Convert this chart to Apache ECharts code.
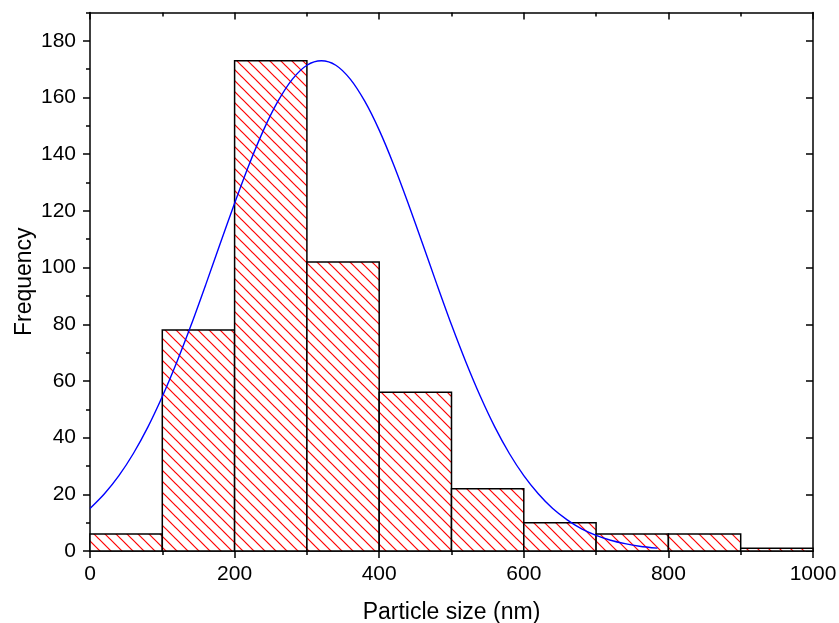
<!DOCTYPE html>
<html>
<head>
<meta charset="utf-8">
<script src="https://cdn.jsdelivr.net/npm/echarts@6/dist/echarts.min.js"></script>
<style>
html,body{margin:0;padding:0;background:#fff;}
#chart{width:839px;height:623px;}
</style>
</head>
<body>
<div id="chart"></div>
<script>
// Histogram bins (nm) and counts
var binStart = [0, 100, 200, 300, 400, 500, 600, 700, 800, 900];
var binEnd   = [100, 200, 300, 400, 500, 600, 700, 800, 900, 1000];
var counts   = [6, 78, 173, 102, 56, 22, 10, 6, 6, 1];

// Fitted curve
var curveX = [0, 20, 40, 60, 80, 100, 120, 140, 160, 180, 200, 220, 240, 260, 280, 300, 320, 340, 360, 380, 400,
              420, 440, 460, 480, 500, 520, 540, 560, 580, 600, 620, 640, 660, 680, 700, 720, 740, 760, 785];
var curveY = [15.0, 20.2, 26.6, 34.4, 43.7, 54.5, 66.6, 79.8, 93.9, 108.4, 122.7, 136.3, 148.5, 158.7, 166.5, 171.4, 173, 171.4, 166.5, 158.7, 148.5,
              136.3, 122.7, 108.4, 93.9, 79.8, 66.6, 54.5, 43.7, 34.4, 26.6, 20.2, 15.0, 11.0, 7.8, 5.5, 3.8, 2.6, 1.7, 1.0];

// Tick values
var yMajorTicks = [0, 20, 40, 60, 80, 100, 120, 140, 160, 180];
var yMinorTicks = [10, 30, 50, 70, 90, 110, 130, 150, 170, 190];

var FONT = "'Liberation Sans', Arial, sans-serif";

// hatch pattern
var tile = document.createElement('canvas');
tile.width = 11; tile.height = 11;
var tc = tile.getContext('2d');
tc.fillStyle = '#ffffff';
tc.fillRect(0, 0, 11, 11);
tc.strokeStyle = '#ff0000';
tc.lineWidth = 1.2;
[-11, 0, 11].forEach(function (o) {
  tc.beginPath();
  tc.moveTo(o - 1, -1);
  tc.lineTo(o + 12, 12);
  tc.stroke();
});

var barData = binStart.map(function (s, i) { return [s, binEnd[i], counts[i]]; });
var lineData = curveX.map(function (x, i) { return [x, curveY[i]]; });

var axisLineStyle = { color: '#000', width: 1.5 };
var plainNum = function (v) { return String(v); };

var chart = echarts.init(document.getElementById('chart'), null, { renderer: 'canvas' });
chart.setOption({
  animation: false,
  backgroundColor: '#fff',
  grid: { left: 90, right: 26, top: 12.5, bottom: 72, containLabel: false, outerBoundsMode: 'none' },
  xAxis: [
    {
      type: 'value', position: 'bottom', min: 0, max: 1000, interval: 200,
      axisLine: { show: true, onZero: false, lineStyle: axisLineStyle },
      axisTick: { show: true, inside: false, length: 7, lineStyle: axisLineStyle },
      minorTick: { show: true, splitNumber: 2, length: 4, lineStyle: axisLineStyle },
      splitLine: { show: false },
      axisLabel: { show: true, margin: 13, fontSize: 21, color: '#000', fontFamily: FONT, formatter: plainNum },
      name: 'Particle size (nm)', nameLocation: 'middle', nameGap: 50, nameMoveOverlap: false,
      nameTextStyle: { fontSize: 23, color: '#000', fontFamily: FONT }
    },
    {
      type: 'value', position: 'top', min: 0, max: 1000, interval: 200,
      axisLine: { show: true, onZero: false, lineStyle: axisLineStyle },
      axisTick: { show: true, inside: true, length: 7, lineStyle: axisLineStyle },
      minorTick: { show: true, splitNumber: 2, length: 4, lineStyle: axisLineStyle },
      splitLine: { show: false },
      axisLabel: { show: false }
    }
  ],
  yAxis: [
    {
      type: 'value', position: 'left', min: 0, max: 190, interval: 20,
      axisLine: { show: true, onZero: false, lineStyle: axisLineStyle },
      axisTick: { show: true, inside: false, length: 7, lineStyle: axisLineStyle, customValues: yMajorTicks },
      splitLine: { show: false },
      axisLabel: { show: true, margin: 14, fontSize: 21, color: '#000', fontFamily: FONT, customValues: yMajorTicks, formatter: plainNum },
      name: 'Frequency', nameLocation: 'middle', nameGap: 54, nameMoveOverlap: false,
      nameTextStyle: { fontSize: 23, color: '#000', fontFamily: FONT }
    },
    {
      type: 'value', position: 'left', min: 0, max: 190, interval: 10,
      axisLine: { show: false },
      axisTick: { show: true, inside: false, length: 4, lineStyle: axisLineStyle, customValues: yMinorTicks },
      splitLine: { show: false },
      axisLabel: { show: false }
    },
    {
      type: 'value', position: 'right', min: 0, max: 190, interval: 20,
      axisLine: { show: true, onZero: false, lineStyle: axisLineStyle },
      axisTick: { show: true, inside: true, length: 7, lineStyle: axisLineStyle, customValues: yMajorTicks },
      splitLine: { show: false },
      axisLabel: { show: false }
    },
    {
      type: 'value', position: 'right', min: 0, max: 190, interval: 10,
      axisLine: { show: false },
      axisTick: { show: true, inside: true, length: 4, lineStyle: axisLineStyle, customValues: yMinorTicks },
      splitLine: { show: false },
      axisLabel: { show: false }
    }
  ],
  series: [
    {
      type: 'custom',
      xAxisIndex: 0, yAxisIndex: 0,
      data: barData,
      encode: { x: [0, 1], y: 2 },
      z: 2,
      renderItem: function (params, api) {
        var p0 = api.coord([api.value(0), api.value(2)]);
        var p1 = api.coord([api.value(1), 0]);
        return {
          type: 'rect',
          shape: { x: p0[0], y: p0[1], width: p1[0] - p0[0], height: p1[1] - p0[1] },
          style: { fill: { image: tile, repeat: 'repeat' }, stroke: '#000', lineWidth: 1.5 }
        };
      }
    },
    {
      type: 'line',
      xAxisIndex: 0, yAxisIndex: 0,
      data: lineData,
      smooth: 0.3,
      showSymbol: false,
      z: 5,
      lineStyle: { color: '#0000ff', width: 1.4 }
    }
  ]
});
</script>
</body>
</html>
